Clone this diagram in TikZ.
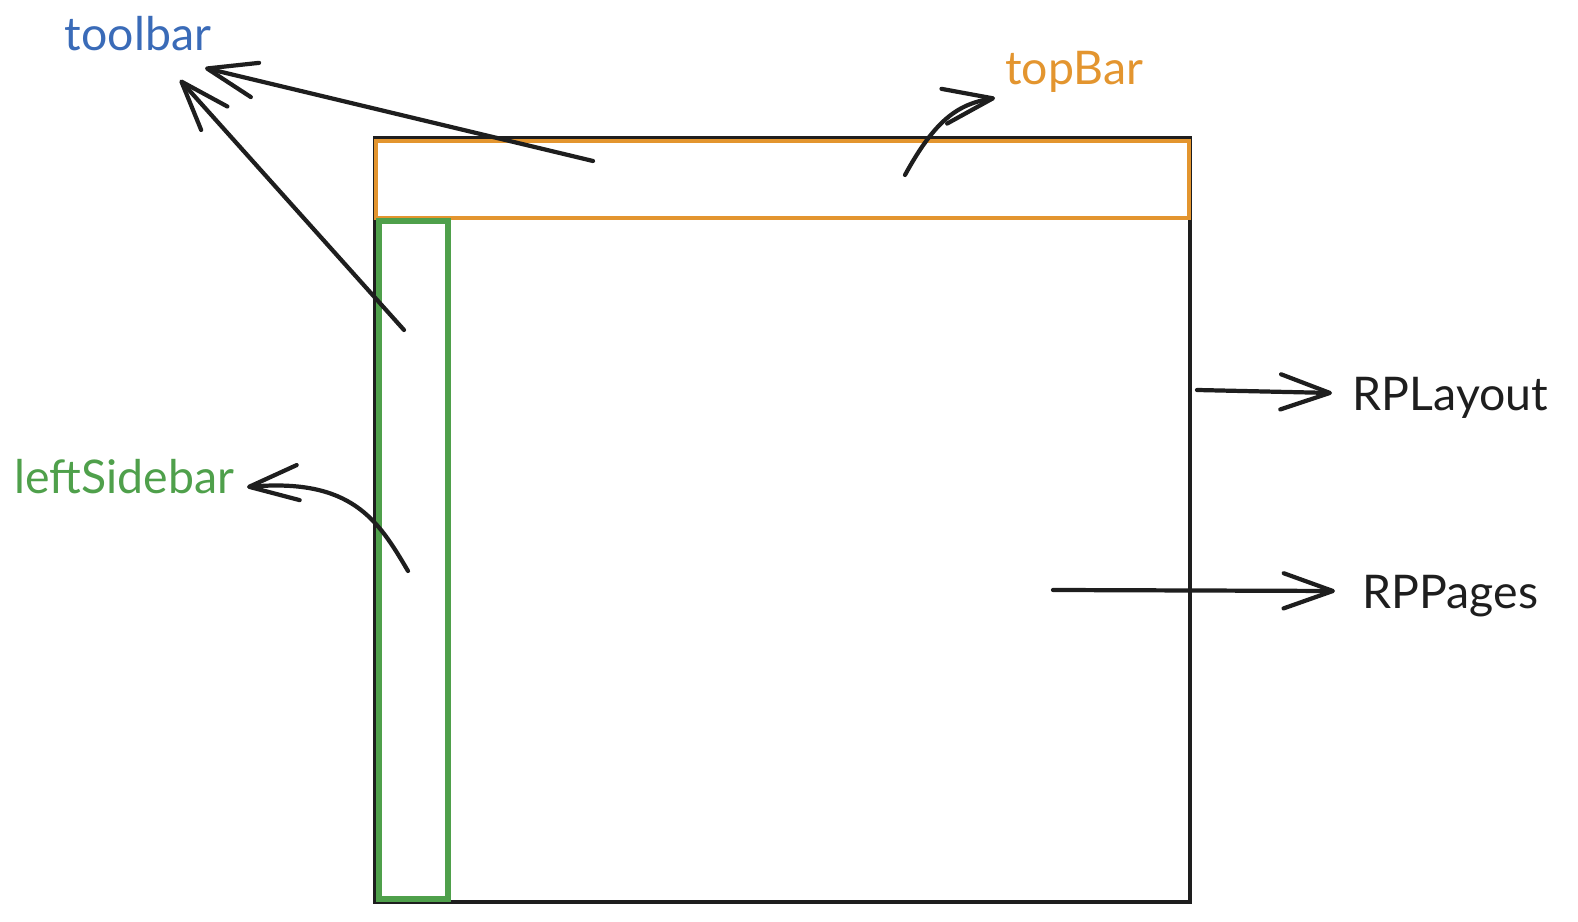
\documentclass[tikz,border=0pt]{standalone}
\usepackage{fontspec}
\setmainfont{Lato}
\usepackage{xcolor}
\usetikzlibrary{arrows.meta}
\definecolor{inkblack}{HTML}{1E1E1E}
\definecolor{labelblue}{HTML}{3A6BB8}
\definecolor{baramber}{HTML}{E3952F}
\definecolor{sidegreen}{HTML}{4FA04B}

\begin{document}
\begin{tikzpicture}[x=0.01cm,y=-0.01cm,
    lbl/.style={font=\fontsize{13.2}{16}\selectfont,inner sep=0pt},
    arr/.style={draw=inkblack,line width=1.2pt,line cap=round,
      -{Straight Barb[length=14pt,width=10pt,round]}}]
      \useasboundingbox (0,0) rectangle (1578,922);
      % panels
      \draw[inkblack,line width=1pt] (375,138) rectangle (1190,902);
      \draw[baramber,line width=1.2pt] (376,141) rectangle (1189,218);
      \draw[sidegreen,line width=1.5pt] (379,221) rectangle (448,899);
      % labels
      \node[lbl,text=labelblue] (toolbar) at (138,34) {toolbar};
      \node[lbl,text=baramber] (topbar) at (1074,72) {topBar};
      \node[lbl,text=sidegreen,anchor=east] (leftsidebar) at (235,477) {leftSidebar};
      \node[lbl,text=inkblack,anchor=west] (rplayout) at (1352,398) {RPLayout};
      \node[lbl,text=inkblack,anchor=west] (rppages) at (1362,596) {RPPages};
      % arrow ends
      \coordinate (tbfrom) at (593,161);
      \coordinate (tbto) at (205,68);
      \coordinate (sbfrom) at (404,330);
      \coordinate (sbto) at (180,80);
      \coordinate (topfrom) at (905,175);
      \coordinate (topto) at (995,98);
      \coordinate (leftfrom) at (408,571);
      \coordinate (leftto) at (247,487);
      \coordinate (layfrom) at (1197,390);
      \coordinate (layto) at (1332,393);
      \coordinate (pgfrom) at (1053,590);
      \coordinate (pgto) at (1335,591);
      % arrows
      \draw[arr] (tbfrom) -- (tbto);
      \draw[arr] (sbfrom) -- (sbto);
      \draw[arr] (topfrom) .. controls (935,120) and (958,104) .. (topto);
      \draw[arr] (leftfrom) .. controls (378,520) and (352,478) .. (leftto);
      \draw[arr] (layfrom) -- (layto);
      \draw[arr] (pgfrom) -- (pgto);
    \end{tikzpicture}
\end{document}
